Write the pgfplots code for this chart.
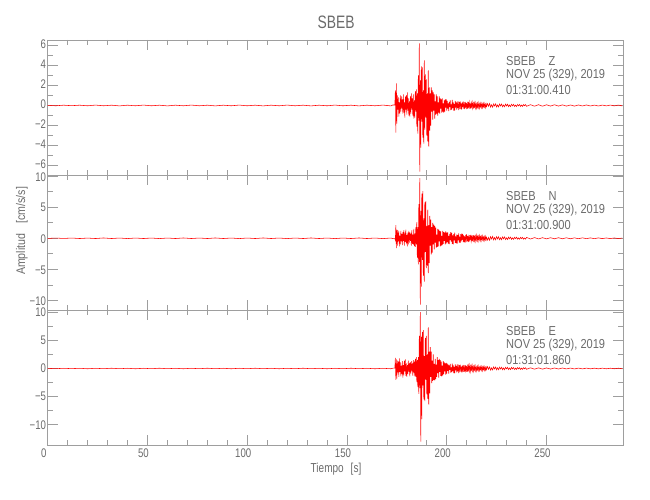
\documentclass[border=0pt]{standalone}
\usepackage{pgfplots}
\pgfplotsset{compat=1.18}
\usepackage{pgfplotstable}
\usepackage{fontspec}
\setmainfont{Liberation Sans}[FakeStretch=0.77]
\newfontfamily\annfont{Liberation Sans}[FakeStretch=0.85]
\definecolor{framegray}{gray}{0.62}
\definecolor{txtgray}{gray}{0.42}

\pgfplotstableread{
t z n e
0 0.02 -0.03 0.03
4 -0.03 0.04 -0.04
8 0.03 -0.03 0.04
12 -0.02 0.04 -0.03
16 0.03 -0.04 0.04
20 -0.03 0.03 -0.05
24 0.04 -0.04 0.04
28 -0.03 0.05 -0.04
32 0.03 -0.04 0.05
36 -0.04 0.04 -0.04
40 0.03 -0.05 0.04
44 -0.03 0.04 -0.05
48 0.04 -0.04 0.04
52 -0.03 0.04 -0.04
56 0.03 -0.05 0.05
60 -0.04 0.04 -0.04
64 0.03 -0.04 0.04
68 -0.03 0.05 -0.05
72 0.04 -0.04 0.04
76 -0.03 0.04 -0.04
80 0.03 -0.04 0.05
84 -0.04 0.05 -0.04
88 0.03 -0.04 0.04
92 -0.03 0.04 -0.05
96 0.04 -0.05 0.04
100 -0.03 0.04 -0.04
104 0.03 -0.04 0.05
108 -0.04 0.05 -0.04
112 0.03 -0.04 0.04
116 -0.03 0.04 -0.05
120 0.04 -0.05 0.04
124 -0.03 0.04 -0.04
128 0.03 -0.04 0.05
132 -0.04 0.05 -0.04
136 0.03 -0.04 0.04
140 -0.03 0.04 -0.05
144 0.04 -0.05 0.04
148 -0.03 0.04 -0.04
152 0.03 -0.04 0.05
156 -0.04 0.05 -0.04
160 0.03 -0.04 0.04
164 -0.03 0.04 -0.05
168 0.04 -0.05 0.04
172 -0.04 0.04 -0.05
173 0.05 -0.05 0.05
174.00 0.05 -0.05 0.08
174.25 1.5 -0.3 1.9
174.50 -2.7 2.1 -2.0
174.75 2.2 -1.6 1.6
175.00 -1.8 1.4 -1.8
175.25 1.0 -1.2 1.4
175.50 -0.4 1.3 -0.7
175.75 0.8 -0.5 1.2
176.00 -1.1 1.1 -1.5
176.25 0.3 -1.3 1.8
176.50 -0.8 0.4 -0.6
176.75 1.0 -1.0 1.1
177.00 -0.6 1.2 -1.4
177.25 0.9 -0.5 0.5
177.50 -0.3 0.7 -1.0
177.75 0.6 -1.1 1.3
178.00 -0.8 1.0 -1.6
178.25 1.1 -0.4 0.6
178.50 -0.7 1.3 -1.2
178.75 0.3 -1.2 1.4
179.00 -1.2 0.9 -0.5
179.25 0.9 -0.6 1.6
179.50 -0.4 1.4 -1.3
179.75 1.0 -0.8 0.9
180.00 -0.9 0.5 -1.5
180.25 1.3 -1.3 0.6
180.50 -0.5 0.9 -1.0
180.75 0.7 -1.0 1.4
181.00 -1.0 1.2 -0.6
181.25 0.4 -0.7 1.0
181.50 -1.1 1.0 -1.4
181.75 0.9 -0.4 1.1
182.00 -0.8 0.8 -0.9
182.25 1.2 -1.2 1.3
182.50 -0.4 1.3 -0.5
182.75 0.7 -0.9 0.9
183.00 -1.0 0.6 -1.3
183.25 1.1 -1.0 1.5
183.50 -1.3 1.5 -0.8
183.75 0.5 -1.3 1.2
184.00 -1.2 0.8 -1.4
184.25 1.4 -1.4 1.7
184.50 -0.6 1.8 -1.5
184.75 1.6 -1.0 2.0
185.00 -2.1 2.6 -2.4
185.25 1.2 -3.1 1.5
185.50 -2.8 1.8 -3.3
185.75 3.0 -4.2 2.0
186.00 -1.5 5.5 -4.5
186.25 6.2 -3.8 5.8
186.50 -6.6 9.7 -3.5
186.75 2.5 -10.7 10.0
187.00 -4.2 4.4 -13.0
187.25 3.9 -7.8 5.6
187.50 -1.6 7.2 -9.0
187.75 3.8 -3.5 6.5
188.00 -3.2 7.6 -3.0
188.25 1.5 -6.0 6.8
188.50 -3.8 3.2 -5.5
188.75 4.5 -7.0 2.2
189.00 -2.4 5.8 -5.8
189.25 3.1 -2.2 5.4
189.50 -1.2 6.0 -2.0
189.75 2.6 -4.8 5.8
190.00 -3.0 2.0 -4.6
190.25 1.2 -4.4 2.5
190.50 -3.6 4.6 -5.4
190.75 3.5 -5.6 7.3
191.00 -4.1 2.1 -6.4
191.25 1.8 -4.0 3.0
191.50 -2.5 3.6 -4.4
191.75 1.2 -1.2 3.8
192.00 -2.0 3.0 -1.5
192.25 1.8 -2.6 3.0
192.50 -0.6 1.8 -2.6
192.75 1.5 -2.3 1.4
193.00 -1.4 2.5 -2.2
193.25 1.3 -1.0 2.5
193.50 -0.5 2.2 -2.0
193.75 1.1 -1.8 0.8
194.00 -1.3 2.0 -2.1
194.25 0.4 -0.7 1.7
194.50 -0.9 1.7 -1.9
194.75 1.1 -1.5 0.7
195.00 -0.8 0.6 -1.5
195.25 0.9 -1.4 2.0
195.50 -1.0 1.5 -0.8
195.75 0.3 -1.3 1.5
196.00 -0.7 1.4 -1.6
196.25 0.9 -0.5 1.7
196.50 -0.8 1.2 -0.6
196.75 0.7 -1.3 1.5
197.00 -0.3 1.1 -1.3
197.25 0.6 -1.2 1.2
197.50 -0.7 0.4 -1.4
197.75 0.7 -1.1 0.5
198.00 -0.6 1.2 -1.2
198.25 0.2 -0.9 1.3
198.50 -0.7 1.0 -1.0
198.75 0.5 -0.4 1.1
199.00 -0.6 0.9 -0.5
199.25 0.6 -1.0 0.9
199.50 -0.2 1.1 -1.1
199.75 0.6 -0.8 1.0
200.00 -0.5 0.9 -0.9
200.25 0.45 -0.60 0.85
200.50 -0.30 0.95 -0.40
200.75 0.20 -0.85 0.70
201.00 -0.55 0.40 -0.90
201.25 0.35 -0.95 0.55
201.50 -0.15 0.70 -0.25
201.75 0.50 -0.30 0.80
202.00 -0.45 1.00 -0.75
202.25 0.10 -0.55 0.20
202.50 -0.40 0.85 -0.65
202.75 0.55 -0.90 0.85
203.00 -0.25 0.45 -0.45
203.25 0.30 -1.00 0.55
203.50 -0.50 0.65 -0.80
203.75 0.15 -0.35 0.30
204.00 -0.50 0.90 -0.85
204.25 0.45 -0.75 0.75
204.50 -0.20 0.30 -0.35
204.75 0.30 -0.80 0.45
205.00 -0.40 0.60 -0.70
205.25 0.40 -0.85 0.75
205.50 -0.25 0.55 -0.50
205.75 0.15 -0.35 0.25
206.00 -0.45 0.80 -0.80
206.25 0.35 -0.70 0.60
206.50 -0.10 0.25 -0.20
206.75 0.40 -0.75 0.70
207.00 -0.35 0.65 -0.55
207.25 0.20 -0.50 0.35
207.50 -0.40 0.75 -0.70
207.75 0.30 -0.25 0.50
208.00 -0.15 0.70 -0.25
208.25 0.40 -0.60 0.65
208.50 -0.30 0.45 -0.60
208.75 0.10 -0.65 0.20
209.00 -0.35 0.30 -0.55
209.25 0.35 -0.70 0.60
209.50 -0.20 0.55 -0.35
209.75 0.25 -0.20 0.45
210.00 -0.35 0.65 -0.60
210.25 0.15 -0.50 0.30
210.50 -0.30 0.35 -0.55
210.75 0.35 -0.60 0.50
211.00 -0.10 0.20 -0.20
211.25 0.30 -0.55 0.55
211.50 -0.30 0.50 -0.45
211.75 0.20 -0.30 0.30
212.00 -0.30 0.55 -0.50
212.25 0.25 -0.45 0.45
212.50 -0.10 0.20 -0.15
212.75 0.30 -0.50 0.50
213.00 -0.25 0.45 -0.40
213.25 0.15 -0.25 0.25
213.50 -0.30 0.50 -0.45
213.75 0.25 -0.40 0.40
214.00 -0.10 0.20 -0.20
214.25 0.25 -0.45 0.40
214.50 -0.25 0.35 -0.40
214.75 0.10 -0.20 0.15
215.00 -0.25 0.45 -0.40
215.25 0.20 -0.35 0.35
215.50 -0.15 0.25 -0.20
215.75 0.25 -0.40 0.40
216.00 -0.20 0.30 -0.35
216.25 0.10 -0.15 0.15
216.50 -0.25 0.40 -0.35
216.75 0.20 -0.35 0.30
217.00 -0.10 0.20 -0.15
217.25 0.20 -0.35 0.35
217.50 -0.20 0.30 -0.30
217.75 0.10 -0.15 0.20
218.00 -0.20 0.35 -0.35
218.25 0.20 -0.30 0.30
218.50 -0.10 0.15 -0.15
218.75 0.20 -0.35 0.30
219.00 -0.15 0.25 -0.30
219.25 0.10 -0.20 0.15
219.50 -0.20 0.30 -0.30
219.75 0.15 -0.25 0.25
220.00 -0.10 0.15 -0.20
220.5 0.18 -0.30 0.32
221.0 -0.08 0.14 -0.15
221.5 0.20 -0.32 0.28
222.0 -0.16 0.27 -0.30
222.5 0.07 -0.12 0.12
223.0 -0.17 0.30 -0.26
223.5 0.15 -0.26 0.28
224.0 -0.06 0.12 -0.10
224.5 0.16 -0.25 0.27
225.0 -0.15 0.26 -0.24
225.5 0.06 -0.10 0.12
226.0 -0.14 0.25 -0.23
226.5 0.15 -0.23 0.24
227.0 -0.05 0.10 -0.10
227.5 0.15 -0.22 0.23
228.0 -0.13 0.23 -0.22
228.5 0.05 -0.09 0.10
229.0 -0.13 0.22 -0.21
229.5 0.14 -0.20 0.21
230.0 -0.05 0.08 -0.08
230.5 0.13 -0.20 0.21
231.0 -0.12 0.19 -0.19
231.5 0.05 -0.08 0.09
232.0 -0.11 0.19 -0.18
232.5 0.12 -0.17 0.19
233.0 -0.04 0.07 -0.08
233.5 0.11 -0.17 0.17
234.0 -0.10 0.16 -0.18
234.5 0.04 -0.07 0.07
235.0 -0.10 0.17 -0.16
235.5 0.10 -0.15 0.17
236.0 -0.04 0.06 -0.07
236.5 0.10 -0.15 0.15
237.0 -0.09 0.15 -0.16
237.5 0.04 -0.06 0.06
238.0 -0.09 0.15 -0.15
238.5 0.09 -0.14 0.14
239.0 -0.03 0.05 -0.06
239.5 0.09 -0.13 0.14
240.0 -0.08 0.14 -0.14
242 0.08 -0.12 0.12
244 -0.07 0.11 -0.12
246 0.08 -0.11 0.11
248 -0.07 0.10 -0.11
250 0.07 -0.10 0.10
252 -0.06 0.09 -0.10
254 0.07 -0.09 0.09
256 -0.06 0.09 -0.09
258 0.06 -0.08 0.09
260 -0.06 0.08 -0.08
262 0.05 -0.08 0.08
264 -0.06 0.07 -0.08
266 0.05 -0.07 0.07
268 -0.05 0.07 -0.07
270 0.05 -0.06 0.07
272 -0.05 0.06 -0.06
274 0.04 -0.06 0.06
276 -0.05 0.06 -0.06
278 0.04 -0.05 0.06
280 -0.04 0.05 -0.05
282 0.04 -0.05 0.05
284 -0.04 0.05 -0.05
286 0.04 -0.05 0.05
288 -0.04 0.04 -0.05
}\seis

\pgfplotsset{
  seis/.style={
    scale only axis, width=575.6pt, height=135pt, anchor=south west,
    xmin=0, xmax=288.5, xtick={0,50,...,250}, minor x tick num=4,
    minor y tick num=1,
    axis line style={framegray, line width=0.6pt},
    tick style={framegray, line width=0.6pt},
    major tick length=10pt, minor tick length=5pt,
    tick align=inside,
    /pgf/number format/assume math mode=true,
    every tick label/.append style={font=\fontsize{12.5}{13}\selectfont, text=txtgray},
    yticklabel style={inner xsep=1.5pt, inner ysep=0.5pt},
    xticklabel style={xshift=-4pt},
    clip=true,
  },
  trace/.style={red, line width=0.55pt},
}

\begin{document}
\begin{tikzpicture}[x=1pt,y=1pt]
\useasboundingbox (0,0) rectangle (650,500);

\begin{axis}[seis, at={(47.7pt,325pt)}, ymin=-6.93, ymax=6.53,
  ytick={-6,-4,-2,0,2,4,6}, yticklabels={−6,−4,−2,0,2,4,6}, xticklabels={},
  yticklabel style={yshift=1pt}]
\addplot[trace] table[x=t,y=z]{\seis};
\end{axis}

\begin{axis}[seis, at={(47.7pt,190pt)}, ymin=-11.56, ymax=10.2,
  ytick={-10,-5,0,5,10}, yticklabels={−10,−5,0,5,10}, xticklabels={},
  yticklabel style={yshift=-0.5pt}]
\addplot[trace] table[x=t,y=n]{\seis};
\end{axis}

\begin{axis}[seis, at={(47.7pt,55pt)}, ymin=-13.6, ymax=10.4,
  ytick={-10,-5,0,5,10}, yticklabels={−10,−5,0,5,10}]
\addplot[trace] table[x=t,y=e]{\seis};
\end{axis}

\tikzset{ann/.style={anchor=base west, inner sep=0pt, text=txtgray, font=\annfont\fontsize{13}{14}\selectfont}}
\node[ann] at (506,434) {SBEB\hspace{13pt}Z};
\node[ann] at (506,421) {NOV 25 (329), 2019};
\node[ann] at (506,405.7) {01:31:00.410};

\node[ann] at (506,299) {SBEB\hspace{13pt}N};
\node[ann] at (506,286) {NOV 25 (329), 2019};
\node[ann] at (506,270.7) {01:31:00.900};

\node[ann] at (506,164) {SBEB\hspace{13pt}E};
\node[ann] at (506,151) {NOV 25 (329), 2019};
\node[ann] at (506,135.7) {01:31:01.860};

\node[anchor=base, inner sep=0pt, text=txtgray, font=\fontsize{18}{20}\selectfont] at (336,471.7) {SBEB};
\node[anchor=base, inner sep=0pt, text=txtgray, font=\fontsize{13}{14}\selectfont] at (336,27) {Tiempo\hspace{7pt}[s]};
\node[rotate=90, anchor=base, inner sep=0pt, text=txtgray, font=\annfont\fontsize{12.5}{14}\selectfont] at (25,269) {Amplitud\hspace{10pt}[cm/s/s]};
\end{tikzpicture}
\end{document}
